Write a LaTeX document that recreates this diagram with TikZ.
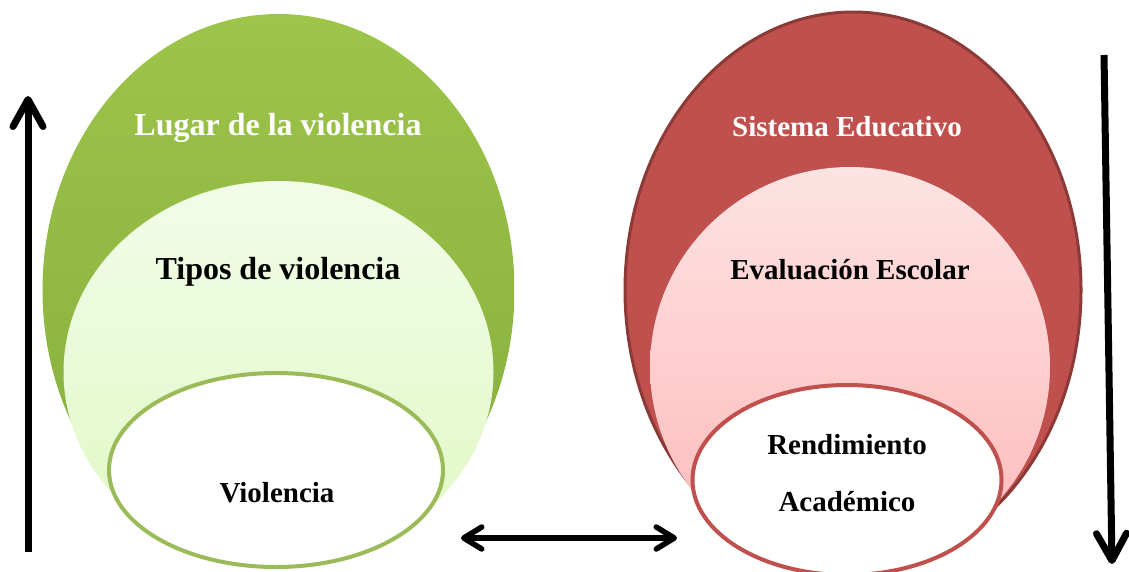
\documentclass[tikz,border=0pt]{standalone}
\usepackage{fontspec}
\setmainfont{Liberation Serif}
\usetikzlibrary{shapes.geometric,arrows.meta}
\definecolor{gTop}{HTML}{9DC54A}
\definecolor{gBot}{HTML}{84AC3C}
\definecolor{lgTop}{HTML}{F2FCE8}
\definecolor{lgBot}{HTML}{E0F8C4}
\definecolor{gLine}{HTML}{9BBB59}
\definecolor{rFill}{HTML}{C0504D}
\definecolor{rLine}{HTML}{8C3A38}
\definecolor{pTop}{HTML}{FDE3E3}
\definecolor{pBot}{HTML}{FFB8B8}
\begin{document}
\begin{tikzpicture}[x=1pt,y=-1pt,
  oval/.style={ellipse, inner sep=0pt, outer sep=0pt},
  biglbl/.style={font=\fontsize{32}{38}\selectfont\bfseries, inner sep=0pt},
  lbl/.style={font=\fontsize{29}{35}\selectfont\bfseries, inner sep=0pt},
  bigarrow/.style={line width=7pt, -{Straight Barb[length=27pt,width=30pt,round]}},
  twoarrow/.style={line width=5.5pt, {Straight Barb[length=18pt,width=22pt,round]}-{Straight Barb[length=18pt,width=22pt,round]}}]
\useasboundingbox (0,0) rectangle (1129,571);
% left set
\node[oval, minimum width=472pt, minimum height=552pt, top color=gTop, bottom color=gBot] (gout) at (278.5,290) {};
\node[oval, minimum width=430pt, minimum height=382pt, top color=lgTop, bottom color=lgBot] (gmid) at (278.5,372) {};
\node[oval, minimum width=334pt, minimum height=194pt, fill=white, draw=gLine, line width=4pt] (gin) at (276,470) {};
\node[biglbl, text=white] (lugar) at (278,128) {Lugar de la violencia};
\node[biglbl] (tipos) at (278,272) {Tipos de violencia};
\node[lbl] (viol) at (277,493) {Violencia};
% right set
\node[oval, minimum width=456pt, minimum height=556pt, fill=rFill, draw=rLine, line width=3pt] (rout) at (853,290) {};
\node[oval, minimum width=400pt, minimum height=400pt, top color=pTop, bottom color=pBot] (rmid) at (850,367) {};
\node[oval, minimum width=309pt, minimum height=190pt, fill=white, draw=rFill, line width=4pt] (rin) at (847,480) {};
\node[lbl, text=white] (sist) at (847,127) {Sistema Educativo};
\node[lbl] (eval) at (850,270) {Evaluación Escolar};
\node[lbl] (rend) at (847,445) {Rendimiento};
\node[lbl] (acad) at (847,502) {Académico};
% arrows
\coordinate (upS) at (28,552);
\coordinate (upE) at (28,96);
\coordinate (dnS) at (1104,55);
\coordinate (dnE) at (1112,564);
\coordinate (dl) at (461,538);
\coordinate (dr) at (677,538);
\draw[bigarrow] (upS) -- (upE);
\draw[bigarrow] (dnS) -- (dnE);
\draw[twoarrow] (dl) -- (dr);
\end{tikzpicture}
\end{document}
